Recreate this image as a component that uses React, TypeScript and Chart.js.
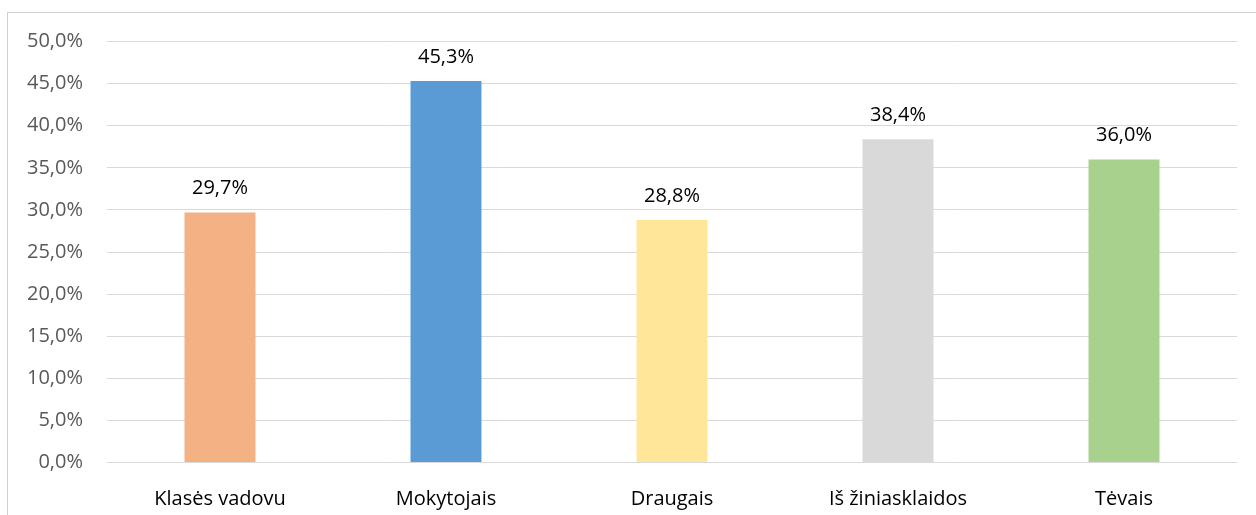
import React, { useEffect, useRef } from "react";
import { Chart, registerables } from "chart.js";

Chart.register(...registerables);

const categories = ["Klasės vadovu", "Mokytojais", "Draugais", "Iš žiniasklaidos", "Tėvais"];
const values = [29.7, 45.3, 28.8, 38.4, 36.0];
const barColors = ["#F4B183", "#5B9BD5", "#FFE699", "#D9D9D9", "#A9D18E"];
const yMin = 0;
const yMax = 50;
const yStep = 5;

const FONT = "'Open Sans', 'Noto Sans', sans-serif";
const fmt = (v: number) => v.toFixed(1).replace(".", ",") + "%";

const dataLabels = {
  id: "dataLabels",
  afterDatasetsDraw(chart: any) {
    const ctx = chart.ctx;
    const meta = chart.getDatasetMeta(0);
    ctx.save();
    ctx.font = `20px ${FONT}`;
    ctx.fillStyle = "#000000";
    ctx.textAlign = "center";
    ctx.textBaseline = "alphabetic";
    meta.data.forEach((el: any, i: number) => {
      ctx.fillText(fmt(values[i]), el.x, el.y - 18);
    });
    ctx.restore();
  },
};

export default function App() {
  const ref = useRef<HTMLCanvasElement | null>(null);
  useEffect(() => {
    if (!ref.current) return;
    const chart = new Chart(ref.current, {
      type: "bar",
      data: {
        labels: categories,
        datasets: [
          {
            data: values,
            backgroundColor: barColors,
            borderWidth: 0,
            categoryPercentage: 1,
            barPercentage: 0.314,
          },
        ],
      },
      options: {
        responsive: false,
        animation: false,
        layout: { padding: { left: 0, top: 41.5, right: 19, bottom: 0 } },
        plugins: { legend: { display: false }, tooltip: { enabled: false } },
        scales: {
          x: {
            grid: { display: false },
            border: { display: false },
            ticks: {
              color: "#000000",
              font: { family: FONT, size: 20 },
              padding: 17,
              maxRotation: 0,
            },
            afterFit: (s: any) => {
              s.height = 52.5;
            },
          },
          y: {
            min: yMin,
            max: yMax,
            grid: { color: "#d9d9d9", lineWidth: 1, drawTicks: false },
            border: { display: false },
            ticks: {
              stepSize: yStep,
              color: "#595959",
              font: { family: FONT, size: 20 },
              padding: 24,
              callback: (v: any) => fmt(Number(v)),
            },
            afterFit: (s: any) => {
              s.width = 107;
            },
          },
        },
      },
      plugins: [dataLabels],
    });
    return () => chart.destroy();
  }, []);
  return (
    <div style={{ position: "fixed", left: 0, top: 0, width: 1256, height: 515, overflow: "hidden", background: "#fff" }}>
      <div style={{ position: "absolute", left: 7, top: 12, width: 1249, height: 1, background: "#d0d0d0" }} />
      <div style={{ position: "absolute", left: 7, top: 12, width: 1, height: 503, background: "#d0d0d0" }} />
      <canvas ref={ref} width={1256} height={515} style={{ position: "absolute", left: 0, top: 0 }} />
    </div>
  );
}
